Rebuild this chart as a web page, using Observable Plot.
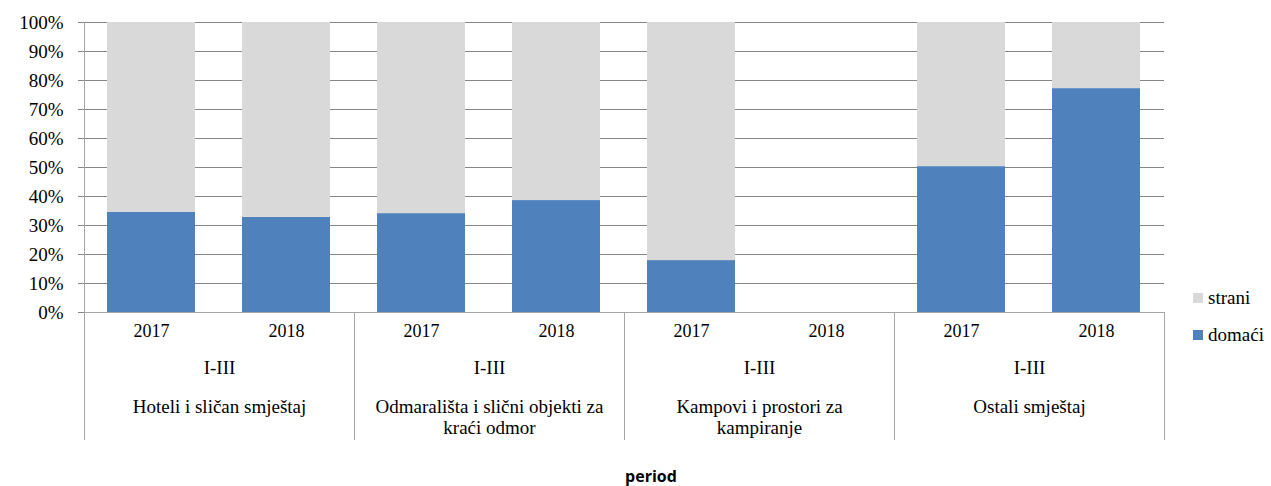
<!DOCTYPE html>
<html><head><meta charset="utf-8">
<script src="https://cdn.jsdelivr.net/npm/d3@7"></script>
<script src="https://cdn.jsdelivr.net/npm/@observablehq/plot@0.6"></script>
<style>
body{margin:0;background:#fff;}
#wrap{position:relative;width:1271px;height:486px;overflow:hidden;}
.leg{position:absolute;left:1193px;font-family:"Liberation Serif",serif;font-size:19px;color:#000;display:flex;align-items:center;white-space:nowrap;}
.leg span.sw{display:inline-block;width:10px;height:10px;margin-right:5px;}
#period{position:absolute;left:551px;width:200px;top:465px;text-align:center;font-family:"Open Sans",sans-serif;font-weight:bold;font-size:16px;color:#000;}
</style></head><body><div id="wrap"></div>
<script>
const categories = ["Hoteli i sličan smještaj","Odmarališta i slični objekti za kraći odmor","Kampovi i prostori za kampiranje","Ostali smještaj"];
const categoryLabels = ["Hoteli i sličan smještaj","Odmarališta i slični objekti za\nkraći odmor","Kampovi i prostori za\nkampiranje","Ostali smještaj"];
const years = ["2017","2018"];
const periodLabel = "I-III";
const seriesNames = ["domaći","strani"];
// percent values, order: category x year
const domaci = [34.6, 32.8, 34.1, 38.6, 17.9, null, 50.3, 77.2];
const strani = [65.4, 67.2, 65.9, 61.4, 82.1, null, 49.7, 22.8];
const yTicks = [0,10,20,30,40,50,60,70,80,90,100];
const axisTitle = "period";
const serif = "'Liberation Serif', serif";

const rows = [];
const yearRows = [];
categories.forEach((c, i) => years.forEach((y, j) => {
  const k = i * 2 + j;
  yearRows.push({category: c, year: y});
  if (domaci[k] != null) rows.push({category: c, year: y, series: "domaći", value: domaci[k] / 100});
  if (strani[k] != null) rows.push({category: c, year: y, series: "strani", value: strani[k] / 100});
}));

const plot = Plot.plot({
  width: 1271,
  height: 486,
  marginLeft: 84,
  marginRight: 107,
  marginTop: 22,
  marginBottom: 174,
  style: {fontFamily: serif, fontSize: "18px", color: "#000", background: "#fff"},
  fx: {domain: categories, padding: 0, axis: null},
  x: {domain: years, paddingInner: 0.348, paddingOuter: 0.174, axis: null},
  y: {domain: [0, 1], axis: null},
  color: {domain: ["strani","domaći"], range: ["#d9d9d9","#4f81bd"]},
  marks: [
    Plot.gridY(yTicks.slice(1).map(d => d / 100), {stroke: "#868686", strokeOpacity: 1}),
    Plot.barY(rows, {fx: "category", x: "year", y: "value", fill: "series", order: seriesNames}),
    Plot.ruleY([0], {stroke: "#a6a6a6"}),
    Plot.axisY(yTicks.map(d => d / 100), {tickSize: 6, tickPadding: 15, tickFormat: d3.format(".0%"), stroke: "#868686", fill: "#000", fontSize: 19, fontFamily: serif, fontVariant: "normal", label: null}),
    Plot.text(yearRows, {fx: "category", x: "year", text: "year", frameAnchor: "bottom", dy: 24, fontSize: 18, fontFamily: serif, fill: "#000"}),
    Plot.text(categories, {fx: d => d, text: () => periodLabel, frameAnchor: "bottom", dy: 61, fontSize: 19, fontFamily: serif, fill: "#000"}),
    Plot.text(categories, {fx: d => d, text: (d, i) => categoryLabels[i], frameAnchor: "bottom", lineAnchor: "top", dy: 85, lineHeight: 1.12, fontSize: 19, fontFamily: serif, fill: "#000"})
  ]
});

// group dividers from the fx scale
const fx = plot.scale("fx");
const ys = plot.scale("y");
const y0 = ys.apply(0), yTop = ys.apply(1);
const edges = categories.map(c => fx.apply(c));
edges.push(fx.apply(categories[categories.length - 1]) + fx.bandwidth);
const g = d3.select(plot).append("g").attr("stroke", "#a6a6a6").attr("shape-rendering", "crispEdges");
edges.forEach((x, i) => {
  g.append("line").attr("x1", x).attr("x2", x).attr("y1", i === 0 ? yTop : y0).attr("y2", y0 + 128);
});

const wrap = document.getElementById("wrap");
wrap.appendChild(plot);
[["strani", 287], ["domaći", 324]].forEach(([name, top]) => {
  const d = document.createElement("div");
  d.className = "leg";
  d.style.top = top + "px";
  const sw = document.createElement("span");
  sw.className = "sw";
  sw.style.background = name === "strani" ? "#d9d9d9" : "#4f81bd";
  d.appendChild(sw);
  d.appendChild(document.createTextNode(name));
  wrap.appendChild(d);
});
const p = document.createElement("div");
p.id = "period";
p.textContent = axisTitle;
wrap.appendChild(p);
</script></body></html>
